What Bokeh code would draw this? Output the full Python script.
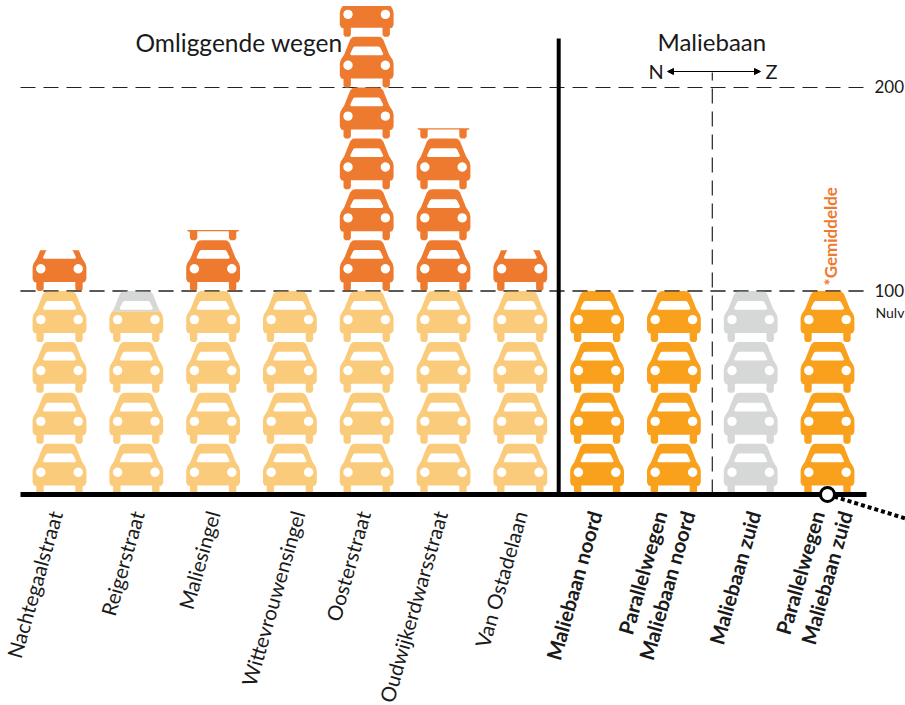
from bokeh.plotting import figure
from bokeh.models import Range1d, ColumnDataSource, Arrow, NormalHead
from bokeh.core.properties import value
from bokeh.embed import file_html
from bokeh.resources import INLINE
import math

categories = ["Nachtegaalstraat", "Reigerstraat", "Maliesingel", "Wittevrouwensingel",
              "Oosterstraat", "Oudwijkerdwarsstraat", "Van Ostadelaan", "Maliebaan noord",
              "Parallelwegen\nMaliebaan noord", "Maliebaan zuid", "Parallelwegen\nMaliebaan zuid"]
values = [120, 90, 130, 100, 240, 180, 120, 100, 100, 0, 100]
is_maliebaan = [False] * 7 + [True] * 4
bold_labels = [False] * 7 + [True] * 4
label_shift_px = [-4, 1, 0, 8, -3, -3, 0, -2, 0, 3, 4]
y_ticks = [100, 200]

LIGHT, DARK, STRONG, GREY = "#FBCB7C", "#EE7A2F", "#F9A11C", "#D6D7D7"
FONT = "Lato"
PX_X = 76.8
PX_Y = 2.035
UNIT = 25
CAR_H = 51.0

half = [(0, 51), (11, 51), (14, 50.5), (16.5, 48), (22.5, 33), (26, 27.5), (26.9, 24), (26.9, 12),
        (25.5, 9), (23.2, 8.5), (23.2, 2), (21.5, 0), (17.5, 0), (15.8, 2), (15.8, 9), (0, 9)]
outline = half + [(-u, v) for u, v in reversed(half[1:-1])]
window = [(-15.5, 32.3), (15.5, 32.3), (16.6, 33.6), (13.5, 40), (12, 41), (-12, 41), (-13.5, 40), (-16.6, 33.6)]
def lamp(cx):
    return [(cx + 4.7 * math.cos(a * math.pi / 10), 22.3 + 4.7 * math.sin(a * math.pi / 10)) for a in range(20)]
rings = [outline, window, lamp(-18.7), lamp(18.7)]


def clip_ring(ring, limit, keep_below):
    inside = (lambda q: q[1] <= limit) if keep_below else (lambda q: q[1] >= limit)
    out = []
    for k, cur in enumerate(ring):
        prev = ring[k - 1]
        if inside(cur) != inside(prev):
            t = (limit - prev[1]) / (cur[1] - prev[1])
            out.append((prev[0] + t * (cur[0] - prev[0]), limit))
        if inside(cur):
            out.append(cur)
    return out


xs, ys, colors = [], [], []


def add_piece(i, low, high, color):
    """Draw the part of the pictogram stack between two values."""
    if high <= low:
        return
    for row in range(int(low // UNIT), int(math.ceil(high / UNIT))):
        base = row * UNIT
        pxs, pys = [], []
        for ring in rings:
            r = [(u, base + v * UNIT / CAR_H) for u, v in ring]
            r = clip_ring(r, high, True)
            if r:
                r = clip_ring(r, low, False)
            if len(r) > 2:
                pxs.append([i + u / PX_X for u, _ in r])
                pys.append([v for _, v in r])
        if pxs:
            xs.append([pxs])
            ys.append([pys])
            colors.append(color)


for i, v in enumerate(values):
    base_col = STRONG if is_maliebaan[i] else LIGHT
    add_piece(i, 0, min(v, 100), base_col)
    add_piece(i, v, 100, GREY)
    add_piece(i, 100, v, DARK)

x_px = lambda p: (p - 59) / PX_X
y_px = lambda p: (494 - p) / PX_Y

p = figure(width=905, height=705, output_backend="svg", toolbar_location=None,
           x_range=Range1d(x_px(0), x_px(905)), y_range=Range1d(y_px(705), y_px(0)),
           x_axis_location=None, y_axis_location=None, min_border=0,
           outline_line_color=None, background_fill_color="white")
p.grid.visible = False

# reference lines
p.segment(x0=[x_px(20)] * 2, x1=[x_px(868)] * 2, y0=y_ticks, y1=y_ticks, line_color="#222222",
          line_width=1.2, line_dash="15 8")
p.segment(x0=[8.5], x1=[8.5], y0=[0], y1=[y_px(72)], line_color="#222222", line_width=1.2, line_dash="15 8")

p.multi_polygons(xs="xs", ys="ys", fill_color="colors", line_color=None,
                 source=ColumnDataSource(dict(xs=xs, ys=ys, colors=colors)))

# redraw dashes on the tick line above the cars
p.segment(x0=[x_px(20)], x1=[x_px(868)], y0=[100], y1=[100], line_color="#222222", line_width=1.2, line_dash="15 8")

# baseline and separator
p.segment(x0=[x_px(20)], x1=[x_px(866)], y0=[0], y1=[0], line_color="black", line_width=5)
p.segment(x0=[6.5], x1=[6.5], y0=[0], y1=[y_px(38)], line_color="black", line_width=4)

# connector
p.line(x=[10, x_px(905)], y=[0, y_px(518)], line_color="black", line_width=4, line_dash="4 3")
p.scatter(x=[10], y=[0], size=14, fill_color="white", line_color="black", line_width=3)

# arrow
p.add_layout(Arrow(start=NormalHead(size=6, fill_color="black", line_color="black"),
                   end=NormalHead(size=6, fill_color="black", line_color="black"),
                   x_start=x_px(667), x_end=x_px(760), y_start=y_px(71), y_end=y_px(71),
                   line_color="black", line_width=1))

# category labels
for i, cat in enumerate(categories):
    lines = cat.split("\n")
    for k, line in enumerate(lines):
        off = (k - (len(lines) - 1) / 2) * 28 + label_shift_px[i]
        p.text(x=[i + off / PX_X], y=[y_px(511)], text=[line], angle=74, angle_units="deg",
               text_align="right", text_baseline="middle", text_font=value(FONT),
               text_font_size="20.5px", text_font_style="bold" if bold_labels[i] else "normal",
               text_color="#1a1a1a")

# headings and tick labels
def label(x, y, t, size, color="#1a1a1a", align="left", style="normal", angle=0):
    p.text(x=[x_px(x)], y=[y_px(y)], text=[t], text_align=align, text_baseline="middle",
           text_font=value(FONT), text_font_size=size, text_color=color, text_font_style=style,
           angle=angle, angle_units="deg")

label(135, 42, "Omliggende wegen", "24.5px")
label(657, 41, "Maliebaan", "24px")
label(648, 70, "N", "20px")
label(765, 70, "Z", "20px")
for t in y_ticks:
    label(874, 494 - t * PX_Y - 1, str(t), "17px")
label(875, 312, "Nulv", "14px")
label(830, 285, "*Gemiddelde", "17px", color=DARK, style="bold", angle=90)

open("out.html", "w").write(file_html(p, INLINE))
